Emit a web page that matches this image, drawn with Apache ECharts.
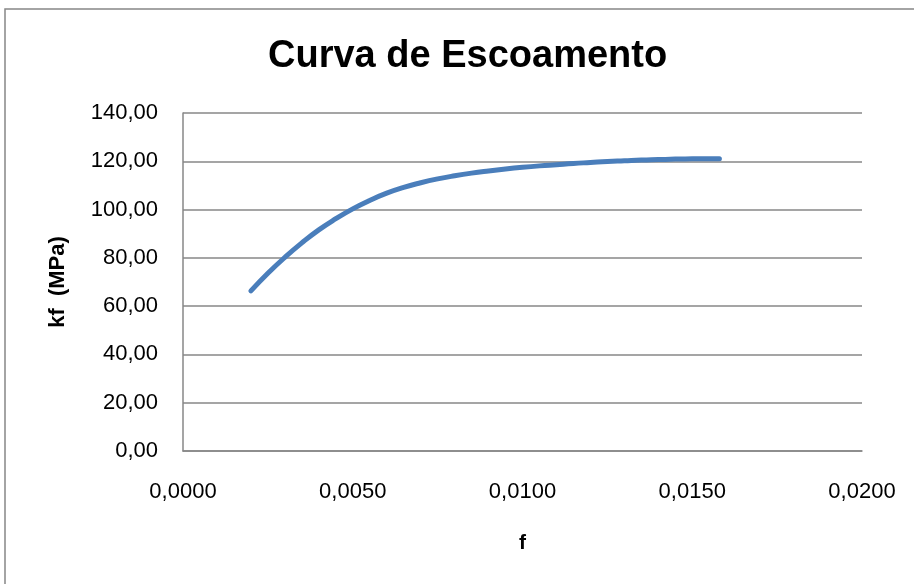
<!DOCTYPE html>
<html>
<head>
<meta charset="utf-8">
<title>Curva de Escoamento</title>
<script src="https://cdn.jsdelivr.net/npm/echarts@6/dist/echarts.min.js"></script>
<style>
    html,body{margin:0;padding:0;background:#fff;}
    #curva{width:914px;height:584px;}
</style>
</head>
<body>
<div id="curva"></div>
<script>
//deformação (f)
var fData=[0.0020,0.0025,0.0030,0.0035,0.0040,0.0045,0.0050,0.0055,0.0060,0.0065,
    0.0070,0.0075,0.0080,0.0085,0.0090,0.0095,0.0100,0.0105,0.0110,0.0115,
    0.0120,0.0125,0.0130,0.0135,0.0140,0.0145,0.0150,0.0155,0.0158];
//tensão de escoamento kf (MPa)
var kfData=[66.3,73.6,80.2,86.2,91.6,96.2,100.3,103.8,106.8,109.2,
    111.1,112.7,114.0,115.1,116.0,116.8,117.5,118.1,118.6,119.1,
    119.5,119.9,120.2,120.5,120.7,120.9,121.0,121.1,121.1];

//eixos
var xMin=0, xMax=0.02, xStep=0.005;
var yMin=0, yMax=140, yStep=20;

var pontos=fData.map(function(f,i){ return [f,kfData[i]]; });

var mychart=echarts.init(document.getElementById("curva"));

var cinza='#878787';
var fonte="'Liberation Sans', Arial, sans-serif";

var option={
    animation:false,
    title:{
        text:"Curva de Escoamento",
        left:263,
        top:33,
        textStyle:{
            fontFamily:fonte,
            fontSize:38,
            fontWeight:'bold',
            color:'#000'
        }
    },
    graphic:[
        {   //moldura do gráfico
            type:'rect',
            shape:{x:5,y:9,width:940,height:600},
            style:{fill:null,stroke:cinza,lineWidth:1.5},
            silent:true
        }
    ],
    grid:{left:183,right:52,top:113,bottom:133},
    xAxis:{
        type:'value',
        min:xMin,
        max:xMax,
        interval:xStep,
        name:'f',
        nameLocation:'middle',
        nameGap:82,
        nameTextStyle:{fontFamily:fonte,fontSize:21,fontWeight:'bold',color:'#000'},
        axisLine:{show:true,lineStyle:{color:cinza,width:1.5}},
        axisTick:{show:false},
        splitLine:{show:false},
        axisLabel:{
            margin:30,
            fontFamily:fonte,
            fontSize:22,
            color:'#000',
            formatter:function(v){ return v.toFixed(4).replace('.',','); }
        }
    },
    yAxis:{
        type:'value',
        min:yMin,
        max:yMax,
        interval:yStep,
        name:'kf  (MPa)',
        nameLocation:'middle',
        nameGap:114,
        nameTextStyle:{fontFamily:fonte,fontSize:22,fontWeight:'bold',color:'#000'},
        axisLine:{show:true,lineStyle:{color:cinza,width:1.5}},
        axisTick:{show:false},
        splitLine:{show:true,lineStyle:{color:cinza,width:1.5}},
        axisLabel:{
            margin:25,
            fontFamily:fonte,
            fontSize:22,
            color:'#000',
            formatter:function(v){ return v.toFixed(2).replace('.',','); }
        }
    },
    series:[
        {
            name:'kf',
            type:'line',
            data:pontos,
            smooth:true,
            showSymbol:false,
            lineStyle:{color:'#4a7ebb',width:5,cap:'round'}
        }
    ]
};
mychart.setOption(option);
</script>
</body>
</html>
